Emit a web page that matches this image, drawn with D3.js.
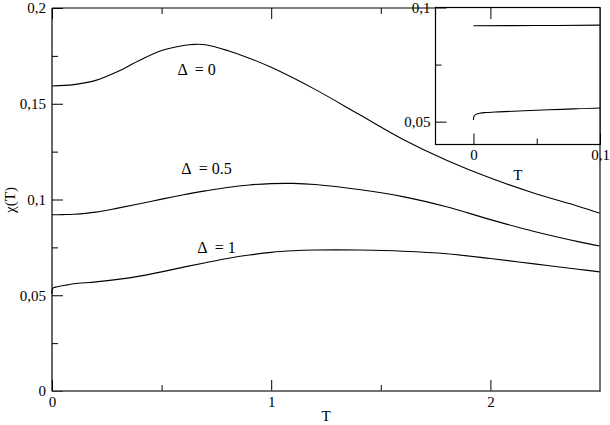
<!DOCTYPE html>
<html>
<head>
<meta charset="utf-8">
<script src="https://cdn.jsdelivr.net/npm/d3@7/dist/d3.min.js"></script>
<style>
  html, body { margin: 0; padding: 0; background: #fff; }
  svg { display: block; }
</style>
</head>
<body>
<svg id="chart" width="610" height="425"></svg>
<script>
// ---------- data ----------
const T_d0   = [0, 0.1, 0.2, 0.3, 0.4, 0.5, 0.6, 0.65, 0.7, 0.8, 0.9, 1.0, 1.2, 1.4, 1.6, 1.8, 2.0, 2.2, 2.4, 2.5];
const chi_d0 = [0.1593, 0.1600, 0.1622, 0.1668, 0.1727, 0.1778, 0.1804, 0.1810, 0.1808, 0.1778, 0.1738, 0.1690, 0.1575, 0.1445, 0.1315, 0.1205, 0.1112, 0.1033, 0.0965, 0.0928];

const T_d05   = [0, 0.05, 0.1, 0.2, 0.3, 0.4, 0.5, 0.6, 0.7, 0.8, 0.9, 1.0, 1.1, 1.2, 1.4, 1.6, 1.8, 2.0, 2.2, 2.4, 2.5];
const chi_d05 = [0.0920, 0.0921, 0.0923, 0.0934, 0.0955, 0.0978, 0.1002, 0.1025, 0.1045, 0.1063, 0.1076, 0.1083, 0.1084, 0.1078, 0.1052, 0.1015, 0.0962, 0.0895, 0.0833, 0.0780, 0.0757];

const T_d1   = [0, 0.0005, 0.002, 0.005, 0.01, 0.02, 0.04, 0.07, 0.1, 0.2, 0.3, 0.4, 0.5, 0.6, 0.7, 0.8, 0.9, 1.0, 1.1, 1.2, 1.3, 1.4, 1.6, 1.8, 2.0, 2.2, 2.4, 2.5];
const chi_d1 = [0.0507, 0.0525, 0.0532, 0.0537, 0.0540, 0.0543, 0.0548, 0.0554, 0.0560, 0.0570, 0.0583, 0.0600, 0.0622, 0.0647, 0.0670, 0.0692, 0.0710, 0.0724, 0.0732, 0.0736, 0.0737, 0.0736, 0.0730, 0.0717, 0.0692, 0.0664, 0.0636, 0.0622];

const seriesNames = ["Δ  = 0", "Δ  = 0.5", "Δ  = 1"];

// main axes ticks
const xTicks = [0, 1, 2];
const xTickLabels = ["0", "1", "2"];
const xMinorTicks = [0.5, 1.5];
const yTicks = [0, 0.05, 0.1, 0.15, 0.2];
const yTickLabels = ["0", "0,05", "0,1", "0,15", "0,2"];
const yMinorTicks = [0.025, 0.075, 0.125, 0.175];

// inset axes ticks
const insetXTicks = [0, 0.1];
const insetXTickLabels = ["0", "0,1"];
const insetXMinorTicks = [0.05];
const insetYTicks = [0.05, 0.1];
const insetYTickLabels = ["0,05", "0,1"];
const insetYMinorTicks = [0.075];

// annotation anchors (data coordinates)
const labelT   = [0.572, 0.59, 0.663];
const labelChi = [0.165, 0.1133, 0.0721];

// ---------- build ----------
const FONT = '"Times New Roman"';
const series = [
  { name: seriesNames[0], pts: T_d0.map((t, i) => [t, chi_d0[i]]) },
  { name: seriesNames[1], pts: T_d05.map((t, i) => [t, chi_d05[i]]) },
  { name: seriesNames[2], pts: T_d1.map((t, i) => [t, chi_d1[i]]) }
];

const svg = d3.select("#chart");
svg.append("rect").attr("width", 610).attr("height", 425).attr("fill", "#fff");

const x = d3.scaleLinear().domain([0, 2.5]).range([52, 600]);
const y = d3.scaleLinear().domain([0, 0.2]).range([391, 8]);

const fmt = (ticks, labels) => d => labels[ticks.indexOf(d)];
const curve = d3.curveCatmullRom.alpha(0.5);

// curves (main)
const line = d3.line().x(d => x(d[0])).y(d => y(d[1])).curve(curve);
svg.append("g").selectAll("path").data(series).join("path")
  .attr("d", d => line(d.pts))
  .attr("fill", "none").attr("stroke", "#000").attr("stroke-width", 1.1);

function setFont(sel, size) {
  sel.style("font-family", FONT).style("font-size", size + "px");
}
function styleAxis(g) {
  g.attr("font-family", null).attr("font-size", null);
  setFont(g.selectAll("text"), 15);
  g.selectAll("line").attr("stroke", "#000");
  g.selectAll(".domain").remove();
}

// main left axis
const gL = svg.append("g").attr("transform", "translate(52,0)");
gL.call(d3.axisLeft(y).tickValues(yTicks).tickFormat(fmt(yTicks, yTickLabels)).tickSize(-11).tickPadding(6));
gL.append("g").call(d3.axisLeft(y).tickValues(yMinorTicks).tickFormat("").tickSize(-6));
styleAxis(gL);

// main bottom axis
const gB = svg.append("g").attr("transform", "translate(0,391)");
gB.call(d3.axisBottom(x).tickValues(xTicks).tickFormat(fmt(xTicks, xTickLabels)).tickSize(-11).tickPadding(5));
gB.append("g").call(d3.axisBottom(x).tickValues(xMinorTicks).tickFormat("").tickSize(-6));
styleAxis(gB);

// main frame
svg.append("line").attr("x1", 52).attr("x2", 52).attr("y1", 8).attr("y2", 391.5).attr("stroke", "#000").attr("stroke-width", 1.2);
svg.append("line").attr("x1", 52).attr("x2", 600.5).attr("y1", 8).attr("y2", 8).attr("stroke", "#000").attr("stroke-width", 1.2);
svg.append("line").attr("x1", 52).attr("x2", 600.5).attr("y1", 391).attr("y2", 391).attr("stroke", "#444").attr("stroke-width", 1.5);
svg.append("line").attr("x1", 600).attr("x2", 600).attr("y1", 8).attr("y2", 391.5).attr("stroke", "#444").attr("stroke-width", 1.5);

// axis titles
setFont(svg.append("text").attr("x", 326).attr("y", 421).attr("text-anchor", "middle").text("T"), 15);
setFont(svg.append("text").attr("transform", "translate(15,200) rotate(-90)").attr("text-anchor", "middle").text("χ(T)"), 15);

// annotations
setFont(svg.append("g").selectAll("text").data(series).join("text")
  .attr("x", (d, i) => x(labelT[i])).attr("y", (d, i) => y(labelChi[i]))
  .style("white-space", "pre")
  .text(d => d.name), 16);

// ---------- inset ----------
const xi = d3.scaleLinear().domain([-0.03, 0.1]).range([435.5, 600]);
const yi = d3.scaleLinear().domain([0.04, 0.1]).range([144.5, 7.5]);

const inset = svg.append("g");
inset.append("rect").attr("x", 435.5).attr("y", 7.5).attr("width", 164.5).attr("height", 137)
  .attr("fill", "#fff");
svg.append("clipPath").attr("id", "insetClip").append("rect")
  .attr("x", 435.5).attr("y", 7.5).attr("width", 164.5).attr("height", 137);

const lineI = d3.line().x(d => xi(d[0])).y(d => yi(d[1])).curve(curve);
inset.append("g").attr("clip-path", "url(#insetClip)").selectAll("path").data(series).join("path")
  .attr("d", d => lineI(d.pts.filter(p => p[0] <= 0.2001)))
  .attr("fill", "none").attr("stroke", "#000").attr("stroke-width", 1.1);

const giL = inset.append("g").attr("transform", "translate(435.5,0)");
giL.call(d3.axisLeft(yi).tickValues(insetYTicks).tickFormat(fmt(insetYTicks, insetYTickLabels)).tickSize(-11).tickPadding(5));
giL.append("g").call(d3.axisLeft(yi).tickValues(insetYMinorTicks).tickFormat("").tickSize(-6));
styleAxis(giL);

const giB = inset.append("g").attr("transform", "translate(0,144.5)");
giB.call(d3.axisBottom(xi).tickValues(insetXTicks).tickFormat(fmt(insetXTicks, insetXTickLabels)).tickSize(-11).tickPadding(5));
giB.append("g").call(d3.axisBottom(xi).tickValues(insetXMinorTicks).tickFormat("").tickSize(-6));
styleAxis(giB);

inset.append("rect").attr("x", 435.5).attr("y", 7.5).attr("width", 164.5).attr("height", 137)
  .attr("fill", "none").attr("stroke", "#000").attr("stroke-width", 1.2);
setFont(inset.append("text").attr("x", xi(0.035)).attr("y", 180).attr("text-anchor", "middle").text("T"), 15);

// main top axis ticks (drawn over the inset)
const gT = svg.append("g").attr("transform", "translate(0,8)");
gT.call(d3.axisTop(x).tickValues(xTicks).tickFormat("").tickSize(-11));
gT.append("g").call(d3.axisTop(x).tickValues(xMinorTicks).tickFormat("").tickSize(-6));
styleAxis(gT);
</script>
</body>
</html>
